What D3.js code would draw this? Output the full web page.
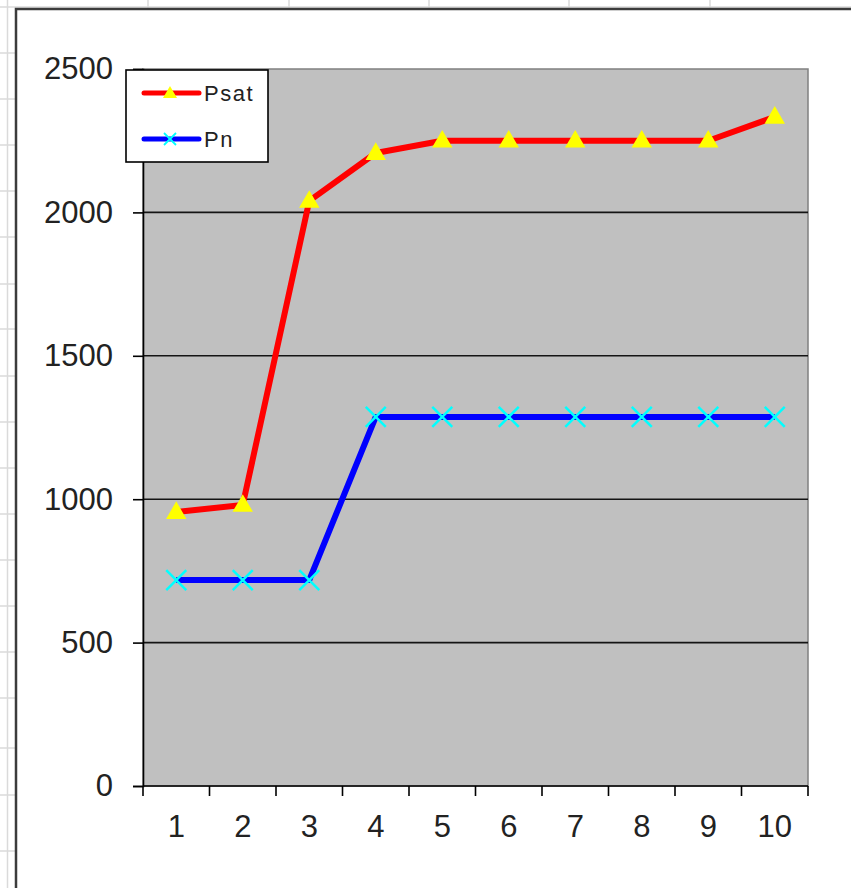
<!DOCTYPE html>
<html>
<head>
<meta charset="utf-8">
<script src="https://cdn.jsdelivr.net/npm/d3@7"></script>
<style>
  html, body { margin: 0; padding: 0; background: #ffffff; }
  svg { display: block; }
</style>
</head>
<body>
<svg id="chart" width="851" height="888"></svg>
<script>
// ---- data ----
const categories = ["1", "2", "3", "4", "5", "6", "7", "8", "9", "10"];
const psatValues = [955, 980, 2040, 2207, 2250, 2250, 2250, 2250, 2250, 2333];
const pnValues   = [718, 718, 718, 1287, 1287, 1287, 1287, 1287, 1287, 1287];
const yTickValues = [0, 500, 1000, 1500, 2000, 2500];
const seriesNames = ["Psat", "Pn"];

// spreadsheet background grid (decoration)
const sheetRows = [7, 53, 99, 145, 191, 237, 284, 329, 376, 422, 468, 514, 560, 606, 652, 698, 748, 795, 851];
const sheetCols = [7.5, 148, 289, 429, 569, 710];

(function () {
const svg = d3.select("#chart");
const FONT = "'Liberation Sans', Arial, sans-serif";

// spreadsheet grid
const grid = svg.append("g").attr("stroke", "#dadada").attr("stroke-width", 1.5);
sheetRows.forEach(v => grid.append("line").attr("x1", 0).attr("x2", 851).attr("y1", v).attr("y2", v));
sheetCols.forEach(v => grid.append("line").attr("x1", v).attr("x2", v).attr("y1", 0).attr("y2", 888));

// chart area
svg.append("rect")
  .attr("x", 16).attr("y", 9).attr("width", 900).attr("height", 900)
  .attr("fill", "#ffffff").attr("stroke", "#3c3c3c").attr("stroke-width", 2.5);

const pLeft = 143, pRight = 808, pTop = 69, pBottom = 786;

const x = d3.scaleBand().domain(categories).range([pLeft, pRight]).padding(0);
const y = d3.scaleLinear().domain([0, 2500]).range([pBottom, pTop]);
const cx = c => x(c) + x.bandwidth() / 2;

// plot area
svg.append("rect")
  .attr("x", pLeft).attr("y", pTop).attr("width", pRight - pLeft).attr("height", pBottom - pTop)
  .attr("fill", "#c0c0c0").attr("stroke", "#808080").attr("stroke-width", 1.5);

// horizontal gridlines
svg.append("g").selectAll("line")
  .data(yTickValues.filter(v => v > 0 && v < 2500))
  .join("line")
  .attr("x1", pLeft).attr("x2", pRight)
  .attr("y1", d => y(d)).attr("y2", d => y(d))
  .attr("stroke", "#141414").attr("stroke-width", 1.6);

// y axis
const yAxis = svg.append("g")
  .attr("transform", `translate(${pLeft},0)`)
  .call(d3.axisLeft(y).tickValues(yTickValues).tickSize(10).tickPadding(20).tickFormat(d3.format("d")));
yAxis.select(".domain").attr("stroke", "#000").attr("stroke-width", 1.6);
yAxis.selectAll(".tick line").attr("stroke", "#000").attr("stroke-width", 1.6);
yAxis.selectAll("text").attr("font-family", FONT).attr("font-size", 31).attr("fill", "#222");

// x axis (labels centred in categories, ticks between categories)
const xAxis = svg.append("g")
  .attr("transform", `translate(0,${pBottom})`)
  .call(d3.axisBottom(x).tickSize(0).tickPadding(29));
xAxis.select(".domain").remove();
xAxis.selectAll("text").attr("font-family", FONT).attr("font-size", 31).attr("fill", "#222");
xAxis.append("line")
  .attr("x1", pLeft).attr("x2", pRight).attr("y1", 0).attr("y2", 0)
  .attr("stroke", "#000").attr("stroke-width", 1.6);
const boundaries = categories.map(c => x(c)).concat([x(categories[categories.length - 1]) + x.bandwidth()]);
xAxis.selectAll(".bt").data(boundaries).join("line")
  .attr("class", "bt")
  .attr("x1", d => d).attr("x2", d => d).attr("y1", 0).attr("y2", 10)
  .attr("stroke", "#000").attr("stroke-width", 1.6);

// lines
const line = d3.line().x((d, i) => cx(categories[i])).y(d => y(d));
svg.append("path").datum(psatValues)
  .attr("d", line).attr("fill", "none").attr("stroke", "#ff0000")
  .attr("stroke-width", 6).attr("stroke-linejoin", "round");
svg.append("path").datum(pnValues)
  .attr("d", line).attr("fill", "none").attr("stroke", "#0000ff")
  .attr("stroke-width", 6).attr("stroke-linejoin", "round");

// markers
const tri = d3.symbol().type(d3.symbolTriangle).size(180);
svg.append("g").selectAll("path").data(psatValues).join("path")
  .attr("d", tri)
  .attr("transform", (d, i) => `translate(${cx(categories[i])},${y(d) + 1})`)
  .attr("fill", "#ffff00");

function xMark(g, r, w) {
  g.append("line").attr("x1", -r).attr("y1", -r).attr("x2", r).attr("y2", r);
  g.append("line").attr("x1", -r).attr("y1", r).attr("x2", r).attr("y2", -r);
  g.attr("stroke", "#00ffff").attr("stroke-width", w);
}
svg.append("g").selectAll("g").data(pnValues).join("g")
  .attr("transform", (d, i) => `translate(${cx(categories[i])},${y(d)})`)
  .each(function () { xMark(d3.select(this), 10, 2.5); });

// legend
const lg = svg.append("g");
lg.append("rect").attr("x", 126).attr("y", 70).attr("width", 142).attr("height", 92)
  .attr("fill", "#ffffff").attr("stroke", "#000").attr("stroke-width", 1.6);
const legendColors = ["#ff0000", "#0000ff"];
const legendY = [93, 139];
seriesNames.forEach((name, i) => {
  lg.append("line").attr("x1", 144).attr("x2", 199).attr("y1", legendY[i]).attr("y2", legendY[i])
    .attr("stroke", legendColors[i]).attr("stroke-width", 5).attr("stroke-linecap", "round");
  if (i === 0) {
    lg.append("path").attr("d", d3.symbol().type(d3.symbolTriangle).size(85)())
      .attr("transform", `translate(170,${legendY[i] + 1})`).attr("fill", "#ffff00");
  } else {
    const g = lg.append("g").attr("transform", `translate(170,${legendY[i]})`);
    xMark(g, 6, 1.8);
  }
  lg.append("text").attr("x", 204).attr("y", legendY[i] + 8)
    .attr("font-family", FONT).attr("font-size", 22).attr("letter-spacing", 1.5)
    .attr("fill", "#222").text(name);
});
})();
</script>
</body>
</html>
